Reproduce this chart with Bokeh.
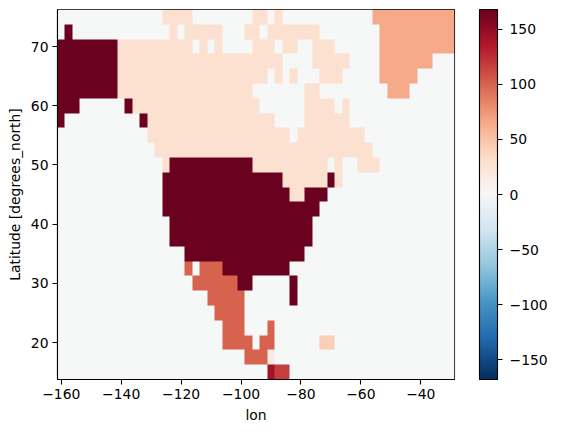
import math
from bokeh.plotting import figure
from bokeh.models import LinearColorMapper, ColorBar, FixedTicker, Label, Range1d
from bokeh.embed import file_html
from bokeh.resources import INLINE
import numpy as np

# geometry_index by cell, north (lat 75) to south (lat 15), lon -160 ... -30 in 2.5 degree steps
lons = [-160 + 2.5 * i for i in range(53)]
lats = [75 - 2.5 * j for j in range(25)]
codes = {".": 0, "a": 28, "b": 65, "c": 101, "d": 168, "e": 43, "f": 17, "g": 142, "h": 118}
# each row is a run-length list: count + code
rows = [
    "14. 4a 8. 2a 1. 1a 12. 11b",
    "1. 1d 13. 1a 1. 5a 3. 2a 1. 7a 8. 10b",
    "8d 10a 1. 1a 1. 1a 4. 3a 1. 2a 2. 3a 6. 10b",
    "8d 22a 4. 5a 4. 7b 3.",
    "8d 20a 1. 1a 1. 1a 3. 3a 5. 5b 5.",
    "8d 18a 7. 2a 9. 3b 6.",
    "3d 6. 1d 17a 6. 4a 1. 1a 14.",
    "1d 10. 1d 17a 4. 6a 14.",
    "12. 19a 1. 9a 12.",
    "13. 29a 11.",
    "14. 1a 11d 10a 1. 1a 2. 3a 10.",
    "14. 16d 6a 1d 1a 15.",
    "14. 17d 2a 3d 17.",
    "14. 21d 18.",
    "15. 19d 19.",
    "15. 19d 19.",
    "17. 16d 20.",
    "17. 1c 1. 3c 9d 22.",
    "18. 6c 2d 5. 1d 21.",
    "20. 5c 6. 1d 21.",
    "21. 4c 28.",
    "22. 3c 3. 1c 24.",
    "22. 4c 1. 2c 6. 2e 16.",
    "25. 3c 1f 24.",
    "28. 1g 2h 22.",
]

# RdBu_r anchor colours
rdbu_anchors = ["#053061", "#2166ac", "#4393c3", "#92c5de", "#d1e5f0", "#f7f7f7",
                "#fddbc7", "#f4a582", "#d6604d", "#b2182b", "#67001f"]
vmax = 168
cb_ticks = [-150, -100, -50, 0, 50, 100, 150]
x_ticks = [-160, -140, -120, -100, -80, -60, -40]
lat_ticks = [20, 30, 40, 50, 60, 70]


def palette256():
    out = []
    rgb = [tuple(int(c[i:i + 2], 16) for i in (1, 3, 5)) for c in rdbu_anchors]
    for k in range(256):
        t = max(k - 1, 0) / 255 * 10
        i = min(int(t), 9)
        f = t - i
        out.append("#%02x%02x%02x" % tuple(round(rgb[i][m] + (rgb[i + 1][m] - rgb[i][m]) * f) for m in range(3)))
    return out


def decode(row):
    vals = []
    for run in row.split():
        vals += [codes[run[-1]]] * int(run[:-1])
    assert len(vals) == len(lons)
    return vals


grid = np.array([decode(r) for r in rows[::-1]], dtype=float)
mapper = LinearColorMapper(palette=palette256(), low=-vmax, high=vmax)

step = lons[1] - lons[0]
p = figure(frame_width=397, frame_height=370, output_backend="svg", toolbar_location=None,
           x_range=Range1d(lons[0] - step / 2, lons[-1] + step / 2),
           y_range=Range1d(lats[-1] - step / 2, lats[0] + step / 2),
           min_border_left=57, min_border_top=9, min_border_bottom=10, min_border_right=120,
           background_fill_color="white", outline_line_color="black", outline_line_width=1.1)
p.grid.visible = False
p.image(image=[grid], x=lons[0] - step / 2, y=lats[-1] - step / 2,
        dw=len(lons) * step, dh=len(lats) * step, color_mapper=mapper)

font = "DejaVu Sans"
for ax, ticks in ((p.xaxis[0], x_ticks), (p.yaxis[0], lat_ticks)):
    ax.ticker = FixedTicker(ticks=ticks)
    ax.major_label_overrides = {t: str(t).replace("-", "\u2212") for t in ticks}
    ax.minor_tick_line_color = None
    ax.major_tick_out = 5
    ax.major_tick_in = 0
    ax.major_tick_line_width = 1.1
    ax.axis_line_width = 1.1
    ax.major_label_text_font = font
    ax.major_label_text_font_size = "13.9px"
    ax.major_label_text_color = "black"
    ax.axis_label_text_font = font
    ax.axis_label_text_font_size = "13.9px"
    ax.axis_label_text_font_style = "normal"
    ax.axis_label_text_color = "black"
    ax.major_label_standoff = 4
p.xaxis[0].axis_label = "lon"
p.yaxis[0].axis_label = "Latitude [degrees_north]"
p.yaxis[0].major_label_orientation = "horizontal"

cb = ColorBar(color_mapper=mapper, width=18, height=370, padding=0, margin=0,
              ticker=FixedTicker(ticks=cb_ticks),
              major_label_overrides={t: str(t).replace("-", "\u2212") for t in cb_ticks},
              major_tick_in=0, major_tick_out=5, major_tick_line_color="black", major_tick_line_width=1.1,
              minor_tick_line_color=None, bar_line_color="black", bar_line_width=1.1,
              border_line_color=None, background_fill_color=None,
              label_standoff=7, major_label_text_font=font, major_label_text_font_size="13.9px",
              major_label_text_color="black", location=(422, 0))
p.add_layout(cb, "center")

p.add_layout(Label(x=502, y=185, x_units="screen", y_units="screen", text="geometry_index", angle=math.pi / 2,
                   text_font=font, text_font_size="13.9px", text_color="black",
                   text_align="center", text_baseline="middle"), "center")

open("out.html", "w").write(file_html(p, INLINE))
